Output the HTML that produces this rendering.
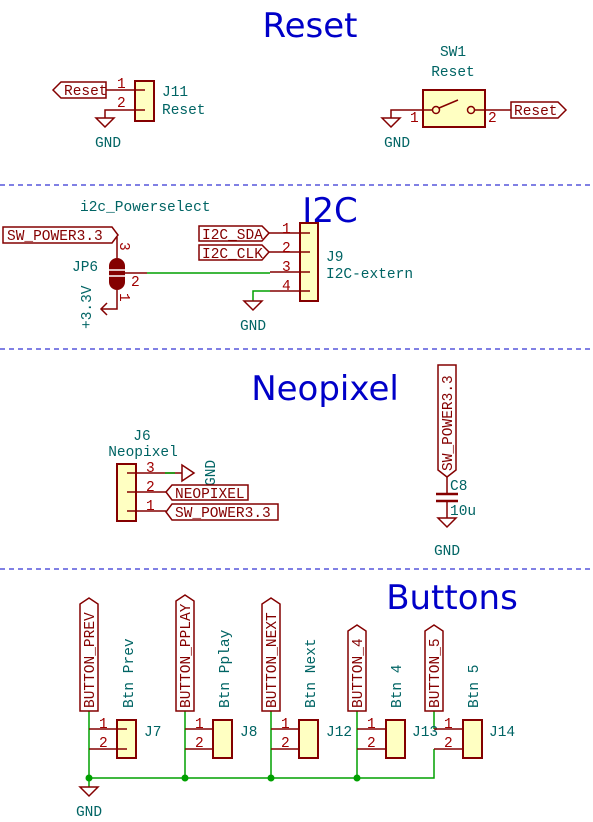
<!DOCTYPE html>
<html><head><meta charset="utf-8"><style>
html,body{margin:0;padding:0;background:#fff;}
svg{display:block;font-family:"Liberation Mono",monospace;}
.r{stroke:#840000;stroke-width:1.5;fill:none}
.g{stroke:#00a000;stroke-width:1.5;fill:none}
.box{stroke:#840000;stroke-width:2;fill:#ffffc2}
.t{fill:#006464;font-size:14.5px}
.n{fill:#a00000;font-size:14.5px}
.l{fill:#840000;font-size:14.5px}
.h{fill:#0000c8;font-size:34px;font-family:"DejaVu Sans",sans-serif}
.d{stroke:#0000c8;stroke-width:1;stroke-dasharray:5,4}
</style></head><body>
<svg width="593" height="822" viewBox="0 0 593 822">
<line class="d" x1="0" y1="185" x2="593" y2="185"/>
<line class="d" x1="0" y1="349" x2="593" y2="349"/>
<line class="d" x1="0" y1="569" x2="593" y2="569"/>
<text class="h" x="310" y="37" text-anchor="middle">Reset</text>
<text class="h" x="330" y="222" text-anchor="middle">I2C</text>
<text class="h" x="325" y="400" text-anchor="middle">Neopixel</text>
<text class="h" x="452" y="609" text-anchor="middle">Buttons</text>

<!-- J11 -->
<polygon class="r" points="53,90 61,82 106,82 106,98 61,98"/>
<text class="l" x="64" y="95">Reset</text>
<line class="r" x1="106" y1="90" x2="145" y2="90"/>
<polyline class="r" points="105,118 105,110 145,110"/>
<rect class="box" x="135" y="81" width="19" height="40"/>
<line class="r" x1="135" y1="90" x2="145" y2="90"/><line class="r" x1="135" y1="110" x2="145" y2="110"/>
<text class="n" x="117" y="88">1</text><text class="n" x="117" y="107">2</text>
<polygon class="r" points="96,118 114,118 105,127"/>
<text class="t" x="108" y="147" text-anchor="middle">GND</text>
<text class="t" x="162" y="96">J11</text><text class="t" x="162" y="114">Reset</text>

<!-- SW1 -->
<text class="t" x="453" y="56" text-anchor="middle">SW1</text>
<text class="t" x="453" y="76" text-anchor="middle">Reset</text>
<rect class="box" x="423" y="90" width="62" height="37"/>
<polyline class="r" points="391,118 391,110 432,110"/>
<circle cx="436" cy="110" r="3.5" class="r"/><circle cx="471" cy="110" r="3.5" class="r"/>
<line class="r" x1="439" y1="108" x2="458" y2="100"/>
<line class="r" x1="475" y1="110" x2="511" y2="110"/>
<text class="n" x="410" y="122">1</text><text class="n" x="488" y="122">2</text>
<polygon class="r" points="382,118 400,118 391,127"/>
<text class="t" x="397" y="147" text-anchor="middle">GND</text>
<polygon class="r" points="511,102 558,102 566,110 558,118 511,118"/>
<text class="l" x="514" y="115">Reset</text>

<!-- I2C -->
<text class="t" x="80" y="211">i2c_Powerselect</text>
<polygon class="r" points="3,227 112,227 118,235 112,243 3,243"/>
<text class="l" x="7" y="240">SW_POWER3.3</text>
<line class="r" x1="117" y1="237" x2="117" y2="258"/>
<text class="n" x="0" y="0" transform="translate(120,242) rotate(90)">3</text>
<text class="t" x="72" y="271">JP6</text>
<rect x="109" y="258" width="16" height="32" rx="8" fill="#840000"/>
<line x1="108" y1="270" x2="126" y2="270" stroke="#fff" stroke-width="1.5"/>
<line x1="108" y1="276" x2="126" y2="276" stroke="#fff" stroke-width="1.5"/>
<line class="r" x1="125" y1="273" x2="147" y2="273"/>
<text class="n" x="131" y="286">2</text>
<line class="g" x1="147" y1="273" x2="270" y2="273"/>
<polyline class="r" points="117,290 117,309 101,309"/>
<polyline class="r" points="107,303 101,309 107,315"/>
<text class="n" x="0" y="0" transform="translate(120,293) rotate(90)">1</text>
<text class="t" x="0" y="0" transform="translate(91,329) rotate(-90)">+3.3V</text>

<polygon class="r" points="199,226 262,226 269,233 262,241 199,241"/>
<text class="l" x="202" y="239">I2C_SDA</text>
<polygon class="r" points="199,245 262,245 269,252 262,260 199,260"/>
<text class="l" x="202" y="258">I2C_CLK</text>
<line class="r" x1="269" y1="233" x2="310" y2="233"/>
<line class="r" x1="269" y1="252" x2="310" y2="252"/>
<line class="r" x1="270" y1="272" x2="310" y2="272"/>
<line class="r" x1="270" y1="291" x2="310" y2="291"/>
<polyline class="g" points="253,301 253,291 270,291"/>
<polygon class="r" points="244,301 262,301 253,310"/>
<text class="t" x="253" y="330" text-anchor="middle">GND</text>
<rect class="box" x="300" y="223" width="18" height="78"/>
<line class="r" x1="300" y1="233" x2="310" y2="233"/><line class="r" x1="300" y1="252" x2="310" y2="252"/>
<line class="r" x1="300" y1="272" x2="310" y2="272"/><line class="r" x1="300" y1="291" x2="310" y2="291"/>
<text class="n" x="282" y="233">1</text><text class="n" x="282" y="252">2</text>
<text class="n" x="282" y="271">3</text><text class="n" x="282" y="290">4</text>
<text class="t" x="326" y="261">J9</text><text class="t" x="326" y="278">I2C-extern</text>

<!-- J6 -->
<text class="t" x="142" y="440" text-anchor="middle">J6</text>
<text class="t" x="143" y="456" text-anchor="middle">Neopixel</text>
<rect class="box" x="117" y="464" width="19" height="57"/>
<line class="r" x1="127" y1="473" x2="182" y2="473"/>
<line class="g" x1="165" y1="473" x2="175" y2="473"/>
<line class="r" x1="127" y1="492" x2="166" y2="492"/>
<line class="r" x1="127" y1="511" x2="166" y2="511"/>
<polygon class="r" points="182,465 182,481 194,473"/>
<text class="t" x="0" y="0" transform="translate(215,486) rotate(-90)">GND</text>
<text class="n" x="146" y="472">3</text><text class="n" x="146" y="491">2</text><text class="n" x="146" y="510">1</text>
<polygon class="r" points="166,492 172,485 248,485 248,500 172,500"/>
<text class="l" x="175" y="498">NEOPIXEL</text>
<polygon class="r" points="166,512 172,504 278,504 278,520 172,520"/>
<text class="l" x="175" y="517">SW_POWER3.3</text>

<!-- C8 -->
<polygon class="r" points="438,365 456,365 456,470 447,477 438,470"/>
<text class="l" x="0" y="0" transform="translate(452,471) rotate(-90)">SW_POWER3.3</text>
<line class="r" x1="447" y1="477" x2="447" y2="493"/>
<line x1="436" y1="494" x2="458" y2="494" stroke="#840000" stroke-width="2.5"/>
<line x1="436" y1="501" x2="458" y2="501" stroke="#840000" stroke-width="2.5"/>
<line class="r" x1="447" y1="501" x2="447" y2="518"/>
<polygon class="r" points="438,518 456,518 447,527"/>
<text class="t" x="450" y="490">C8</text><text class="t" x="450" y="515">10u</text>
<text class="t" x="447" y="555" text-anchor="middle">GND</text>

<!-- Buttons -->
<polyline class="g" points="89,778 434,778 434,749"/>
<line class="g" x1="89" y1="711" x2="89" y2="787"/>
<circle cx="89" cy="778" r="3.5" fill="#00a000"/><circle cx="185" cy="778" r="3.5" fill="#00a000"/>
<circle cx="271" cy="778" r="3.5" fill="#00a000"/><circle cx="357" cy="778" r="3.5" fill="#00a000"/>
<line class="g" x1="185" y1="711" x2="185" y2="778"/>
<line class="g" x1="271" y1="711" x2="271" y2="778"/>
<line class="g" x1="357" y1="711" x2="357" y2="778"/>
<line class="g" x1="434" y1="711" x2="434" y2="729"/>
<polygon class="r" points="80,787 98,787 89,796"/>
<text class="t" x="89" y="816" text-anchor="middle">GND</text>

<g>
<polygon class="r" points="80,711 80,604 89,598 98,604 98,711"/>
<text class="l" x="0" y="0" transform="translate(94,708) rotate(-90)">BUTTON_PREV</text>
<polyline class="r" points="89,729 127,729"/><polyline class="r" points="89,749 127,749"/>
<rect class="box" x="117" y="720" width="19" height="38"/>
<line class="r" x1="117" y1="729" x2="127" y2="729"/><line class="r" x1="117" y1="749" x2="127" y2="749"/>
<text class="n" x="99" y="728">1</text><text class="n" x="99" y="747">2</text>
<text class="t" x="144" y="736">J7</text>
<text class="t" x="0" y="0" transform="translate(133,708) rotate(-90)">Btn Prev</text>
</g>
<g>
<polygon class="r" points="176,711 176,601 185,595 194,601 194,711"/>
<text class="l" x="0" y="0" transform="translate(190,708) rotate(-90)">BUTTON_PPLAY</text>
<polyline class="r" points="185,729 223,729"/><polyline class="r" points="185,749 223,749"/>
<rect class="box" x="213" y="720" width="19" height="38"/>
<text class="n" x="195" y="728">1</text><text class="n" x="195" y="747">2</text>
<text class="t" x="240" y="736">J8</text>
<text class="t" x="0" y="0" transform="translate(229,708) rotate(-90)">Btn Pplay</text>
</g>
<g>
<polygon class="r" points="262,711 262,604 271,598 280,604 280,711"/>
<text class="l" x="0" y="0" transform="translate(276,708) rotate(-90)">BUTTON_NEXT</text>
<polyline class="r" points="271,729 309,729"/><polyline class="r" points="271,749 309,749"/>
<rect class="box" x="299" y="720" width="19" height="38"/>
<text class="n" x="281" y="728">1</text><text class="n" x="281" y="747">2</text>
<text class="t" x="326" y="736">J12</text>
<text class="t" x="0" y="0" transform="translate(315,708) rotate(-90)">Btn Next</text>
</g>
<g>
<polygon class="r" points="348,711 348,631 357,625 366,631 366,711"/>
<text class="l" x="0" y="0" transform="translate(362,708) rotate(-90)">BUTTON_4</text>
<polyline class="r" points="357,729 395,729"/><polyline class="r" points="357,749 395,749"/>
<rect class="box" x="386" y="720" width="19" height="38"/>
<text class="n" x="367" y="728">1</text><text class="n" x="367" y="747">2</text>
<text class="t" x="412" y="736">J13</text>
<text class="t" x="0" y="0" transform="translate(401,708) rotate(-90)">Btn 4</text>
</g>
<g>
<polygon class="r" points="425,711 425,631 434,625 443,631 443,711"/>
<text class="l" x="0" y="0" transform="translate(439,708) rotate(-90)">BUTTON_5</text>
<polyline class="r" points="434,729 472,729"/><polyline class="r" points="434,749 472,749"/>
<rect class="box" x="463" y="720" width="19" height="38"/>
<text class="n" x="444" y="728">1</text><text class="n" x="444" y="747">2</text>
<text class="t" x="489" y="736">J14</text>
<text class="t" x="0" y="0" transform="translate(478,708) rotate(-90)">Btn 5</text>
</g>
</svg>
</body></html>
